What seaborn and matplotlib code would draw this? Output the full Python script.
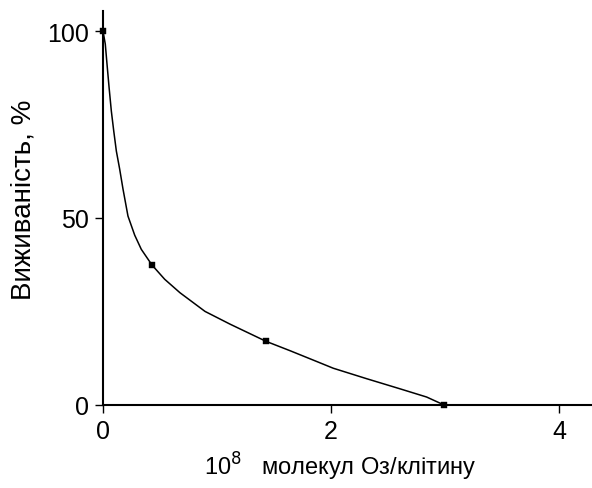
import matplotlib
matplotlib.use("Agg")
import matplotlib.pyplot as plt
import seaborn as sns
import pandas as pd

# measured points (dose, survival)
dose = [0.0, 0.43, 1.43, 2.99]
survival = [100, 37.4, 17.0, 0]

# curve
curve_x = [0.0, 0.020, 0.035, 0.053, 0.073, 0.094, 0.117, 0.146, 0.175, 0.219, 0.278,
           0.336, 0.43, 0.541, 0.675, 0.895, 1.114, 1.43, 1.64, 1.875, 2.02, 2.313,
           2.605, 2.839, 2.99]
curve_y = [100, 96.5, 91.2, 85.0, 78.6, 73.3, 67.9, 63.1, 57.8, 50.5, 45.4,
           41.6, 37.4, 33.6, 30.0, 25.0, 21.6, 17.0, 14.5, 11.6, 9.8, 7.0,
           4.3, 2.1, 0]

x_ticks = [0, 2, 4]
y_ticks = [0, 50, 100]

sns.set_style("ticks")
plt.rcParams['font.family'] = ['Liberation Sans', 'DejaVu Sans']

fig = plt.figure(figsize=(5.92, 4.89), dpi=100)
ax = fig.add_axes([0.174, 0.17, 0.826, 0.805])

curve_df = pd.DataFrame({'x': curve_x, 'y': curve_y})
pts_df = pd.DataFrame({'x': dose, 'y': survival})

sns.lineplot(data=curve_df, x='x', y='y', ax=ax, color='black', linewidth=1.1, sort=False)
sns.scatterplot(data=pts_df, x='x', y='y', ax=ax, color='black', marker='s', s=13,
                edgecolor='black', zorder=5, clip_on=False)

ax.set_xlim(0, 4.29)
ax.set_ylim(0, 105.3)
ax.set_xticks(x_ticks)
ax.set_yticks(y_ticks)
ax.tick_params(axis='both', labelsize=18, colors='black', labelcolor='black',
               width=1, length=6, pad=4)
sns.despine(ax=ax)
for s in ['left', 'bottom']:
    ax.spines[s].set_linewidth(1.5)
    ax.spines[s].set_color('black')

ax.set_xlabel('10$^8$   молекул Оз/клітину', fontsize=17, color='black')
ax.set_ylabel('Виживаність, %', fontsize=20, color='black')
ax.xaxis.set_label_coords(0.485, -0.115)
ax.yaxis.set_label_coords(-0.135, 0.523)

fig.savefig('out.png', dpi=100)
